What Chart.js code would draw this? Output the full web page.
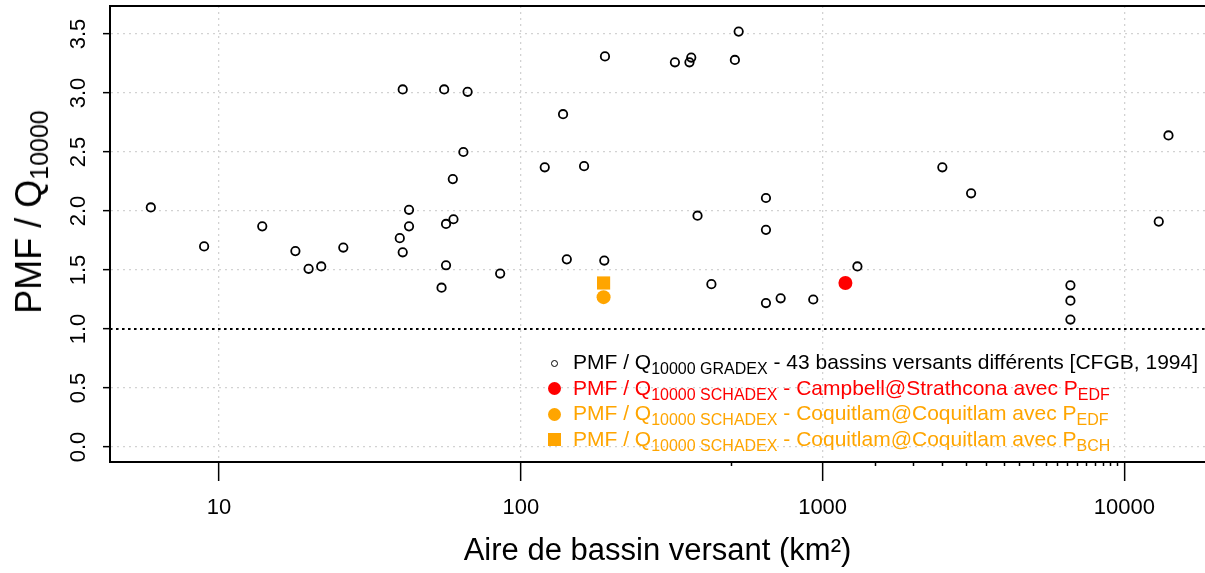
<!DOCTYPE html>
<html>
<head>
<meta charset="utf-8">
<script src="https://cdn.jsdelivr.net/npm/chart.js@4.4.1/dist/chart.umd.min.js"></script>
<style>
  body { margin: 0; background: #fff; }
  #wrap { position: relative; width: 1205px; height: 573px; font-family: 'Liberation Sans', Arial, sans-serif; }
  #ytitle { position: absolute; left: 31px; top: 212px; transform: translate(-50%, -50%) rotate(-90deg);
            font-size: 36px; white-space: nowrap; color: #000; }
  #ytitle sub { font-size: 25px; vertical-align: -7px; }
  #legend { position: absolute; left: 544px; top: 349px; font-size: 21px; white-space: nowrap; }
  #legend .row { height: 25.5px; line-height: 25.5px; }
  #legend .mk { display: inline-block; width: 20px; text-align: center; margin-right: 9px; }
  #legend .mk i { display: inline-block; vertical-align: middle; }
  #legend sub { font-size: 16px; vertical-align: -5px; }
</style>
</head>
<body>
<div id="wrap">
  <canvas id="chart" width="1205" height="573"></canvas>
  <div id="ytitle">PMF / Q<sub>10000</sub></div>
  <div id="legend">
    <div class="row" style="color:#000"><span class="mk"><i style="width:5px;height:5px;border:1.8px solid #000;border-radius:50%"></i></span>PMF / Q<sub>10000 GRADEX</sub> - 43 bassins versants différents [CFGB, 1994]</div>
    <div class="row" style="color:#ff0000"><span class="mk"><i style="width:13px;height:13px;background:#ff0000;border-radius:50%"></i></span>PMF / Q<sub>10000 SCHADEX</sub> - Campbell@Strathcona avec P<sub>EDF</sub></div>
    <div class="row" style="color:#ffa500"><span class="mk"><i style="width:13px;height:13px;background:#ffa500;border-radius:50%"></i></span>PMF / Q<sub>10000 SCHADEX</sub> - Coquitlam@Coquitlam avec P<sub>EDF</sub></div>
    <div class="row" style="color:#ffa500"><span class="mk"><i style="width:13px;height:13px;background:#ffa500"></i></span>PMF / Q<sub>10000 SCHADEX</sub> - Coquitlam@Coquitlam avec P<sub>BCH</sub></div>
  </div>
</div>
<script>
// GRADEX basins (area km², PMF / Q10000)
const gradexArea = [5.94, 8.92, 13.9, 17.9, 19.8, 21.8, 25.8, 40.6, 39.7, 40.6, 42.6, 42.6,
  55.7, 66.6, 64.5, 59.5, 59.8, 56.5, 56.5, 54.6, 85.4, 190, 324, 362, 367, 512, 527,
  138, 120, 162, 649, 385, 649, 142, 189, 1304, 428, 649, 726, 931, 2493, 3105,
  14000, 13000, 6625, 6625, 6625];
const gradexRatio = [2.03, 1.70, 1.87, 1.66, 1.51, 1.53, 1.69, 3.03, 1.77, 1.65, 2.01, 1.87,
  3.03, 3.01, 2.50, 2.27, 1.93, 1.89, 1.54, 1.35, 1.47, 3.31, 3.26, 3.26, 3.30, 3.28, 3.52,
  2.82, 2.37, 2.38, 2.11, 1.96, 1.84, 1.59, 1.58, 1.53, 1.38, 1.22, 1.26, 1.25, 2.37, 2.15,
  2.64, 1.91, 1.37, 1.24, 1.08];

// SCHADEX points
const campbellArea = [1190];
const campbellEdf = [1.39];
const coquitlamArea = [188];
const coquitlamEdf = [1.27];
const coquitlamBch = [1.39];

const REF_RATIO = 1.0;

const X_MIN = 4.35, X_MAX = 18500;
const Y_MIN = -0.127, Y_MAX = 3.737;
const X_MAJOR_TICKS = [10, 100, 1000, 10000];
const X_MINOR_TICKS = [500, 1500, 2000, 2500, 3000, 3500, 4000, 4500, 5000, 5500, 6000, 6500, 7000, 7500, 8000, 8500, 9000, 9500];
const Y_TICKS = [0, 0.5, 1, 1.5, 2, 2.5, 3, 3.5];

const FONT = "'Liberation Sans', Arial, sans-serif";
Chart.defaults.font.family = FONT;
Chart.defaults.color = '#000';

const toPoints = (xs, ys) => xs.map((x, i) => ({ x: x, y: ys[i] }));

// top edge of the plot box
const frameTop = {
  id: 'frameTop',
  afterDraw(chart) {
    const { ctx, chartArea } = chart;
    ctx.save();
    ctx.strokeStyle = '#000';
    ctx.lineWidth = 2;
    ctx.beginPath();
    ctx.moveTo(chartArea.left, chartArea.top);
    ctx.lineTo(chartArea.right, chartArea.top);
    ctx.stroke();
    ctx.restore();
  }
};

new Chart(document.getElementById('chart'), {
  type: 'scatter',
  data: {
    datasets: [
      {
        type: 'line',
        data: [{ x: X_MIN, y: REF_RATIO }, { x: X_MAX, y: REF_RATIO }],
        showLine: true,
        borderColor: '#000',
        borderWidth: 2,
        borderDash: [2.5, 3.5],
        pointRadius: 0
      },
      {
        data: toPoints(gradexArea, gradexRatio),
        pointStyle: 'circle',
        pointRadius: 4.2,
        borderColor: '#000',
        backgroundColor: 'rgba(0,0,0,0)',
        borderWidth: 1.8
      },
      {
        data: toPoints(campbellArea, campbellEdf),
        pointStyle: 'circle',
        pointRadius: 7,
        borderWidth: 0,
        backgroundColor: '#ff0000'
      },
      {
        data: toPoints(coquitlamArea, coquitlamEdf),
        pointStyle: 'circle',
        pointRadius: 7,
        borderWidth: 0,
        backgroundColor: '#ffa500'
      },
      {
        data: toPoints(coquitlamArea, coquitlamBch),
        pointStyle: 'rect',
        pointRadius: 9.3,
        borderWidth: 0,
        backgroundColor: '#ffa500'
      }
    ]
  },
  options: {
    responsive: false,
    animation: false,
    devicePixelRatio: 1,
    layout: { autoPadding: false, padding: { top: 6, left: 0, right: 0, bottom: 0 } },
    plugins: { legend: { display: false }, tooltip: { enabled: false } },
    scales: {
      x: {
        type: 'logarithmic',
        position: 'bottom',
        min: X_MIN,
        max: X_MAX,
        afterBuildTicks: s => { s.ticks = X_MAJOR_TICKS.map(v => ({ value: v })); },
        afterFit: s => { s.height = 111; s.paddingLeft = 0; s.paddingRight = 0; },
        border: { color: '#000', width: 2, dash: [2, 4] },
        grid: { color: '#d2d2d2', lineWidth: 1.3, tickLength: 19, tickColor: '#000', tickWidth: 1.5, tickBorderDash: [] },
        ticks: {
          color: '#000', font: { size: 22 }, padding: 14, maxRotation: 0, autoSkip: false,
          callback: v => String(v)
        },
        title: { display: true, text: 'Aire de bassin versant (km²)', color: '#000', font: { size: 31 }, padding: { top: 0, bottom: 3 } }
      },
      xMinor: {
        type: 'logarithmic',
        axis: 'x',
        position: { y: Y_MIN },
        min: X_MIN,
        max: X_MAX,
        afterBuildTicks: s => { s.ticks = X_MINOR_TICKS.map(v => ({ value: v })); },
        border: { display: false },
        grid: { drawOnChartArea: false, tickLength: 4, tickColor: '#000', tickWidth: 1.5, tickBorderDash: [] },
        ticks: { display: false }
      },
      y: {
        type: 'linear',
        position: 'left',
        min: Y_MIN,
        max: Y_MAX,
        afterBuildTicks: s => { s.ticks = Y_TICKS.map(v => ({ value: v })); },
        afterFit: s => { s.width = 110; s.paddingTop = 0; s.paddingBottom = 0; },
        border: { color: '#000', width: 2, dash: [2, 4] },
        grid: { color: '#d2d2d2', lineWidth: 1.3, tickLength: 7, tickColor: '#000', tickWidth: 1.5, tickBorderDash: [] },
        ticks: {
          color: '#000', font: { size: 22 }, padding: 9, minRotation: 90, maxRotation: 90, crossAlign: 'center',
          callback: v => v.toFixed(1)
        }
      }
    }
  },
  plugins: [frameTop]
});
</script>
</body>
</html>
